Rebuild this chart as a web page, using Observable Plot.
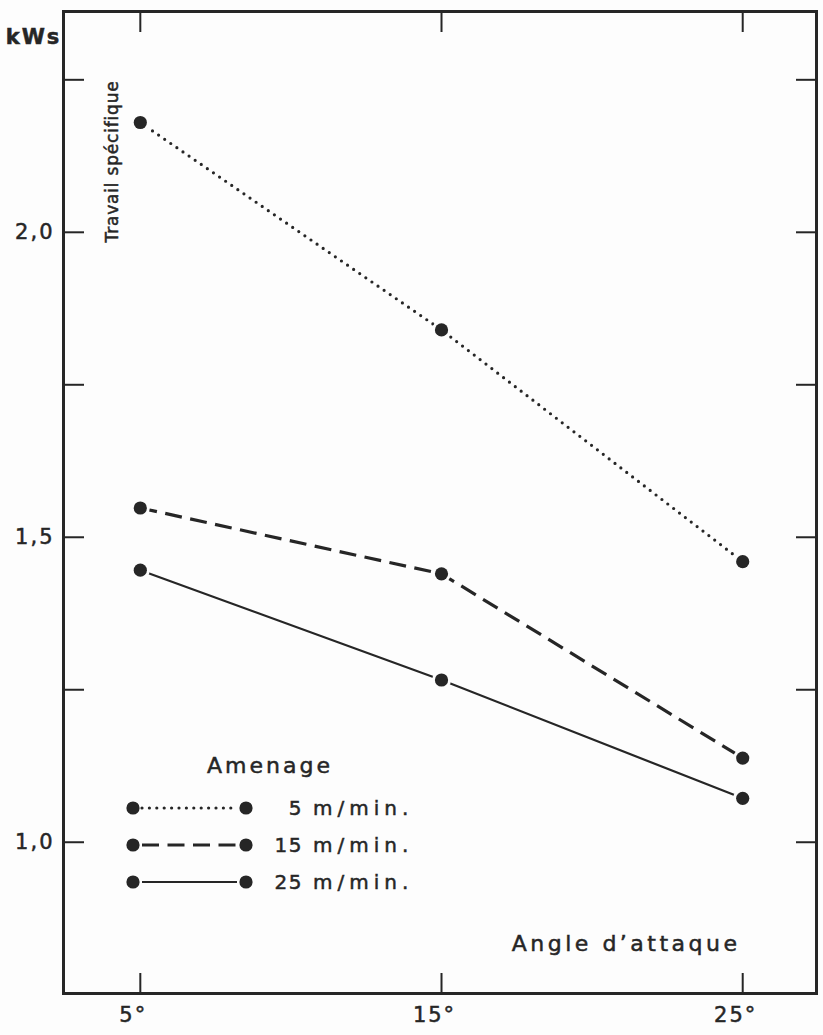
<!DOCTYPE html>
<html>
<head>
<meta charset="utf-8">
<script src="https://cdn.jsdelivr.net/npm/d3@7"></script>
<script src="https://cdn.jsdelivr.net/npm/@observablehq/plot@0.6"></script>
<style>
  html, body { margin: 0; padding: 0; background: #fdfdfd; }
  #chart { position: relative; width: 823px; height: 1035px; }
  svg { font-family: "DejaVu Sans", sans-serif; }
</style>
</head>
<body>
<div id="chart"></div>
<script>
// ---- data ----
const angles = [5, 15, 25];
const angleLabels = ["5°", "15°", "25°"];
const feeds = ["5", "15", "25"];
const feedUnit = "m/min.";
const values5 = [2.18, 1.84, 1.46];
const values15 = [1.548, 1.44, 1.138];
const values25 = [1.446, 1.266, 1.072];
const yTicks = [1.0, 1.25, 1.5, 1.75, 2.0, 2.25];
const yLabelTicks = [1.0, 1.5, 2.0];
const yLabels = ["1,0", "1,5", "2,0"];
const yUnit = "kWs";
const yTitle = "Travail spécifique";
const xTitle = "Angle d\u2019attaque";
const legendTitle = "Amenage";

const ink = "#262626";
const styles = {
  "5": {dash: "0 7.4", width: 3.2},
  "15": {dash: "17 8.5", width: 3.2},
  "25": {dash: null, width: 2.2}
};

const seriesValues = [values5, values15, values25];
const data = [];
feeds.forEach((f, i) => angles.forEach((a, j) => data.push({feed: f, angle: a, value: seriesValues[i][j]})));

const W = 823, H = 1035;
const M = {top: 11, right: 7, bottom: 42, left: 63};
const font = "DejaVu Sans, sans-serif";

const marks = [];
// ticks (inward) on all four sides
marks.push(Plot.axisY(yTicks, {anchor: "left", tickSize: -21, strokeWidth: 2, stroke: ink, label: null, text: null}));
marks.push(Plot.axisY(yTicks, {anchor: "right", tickSize: -21, strokeWidth: 2, stroke: ink, label: null, text: null}));
marks.push(Plot.axisX(angles, {anchor: "bottom", tickSize: -20, strokeWidth: 2, stroke: ink, label: null, text: null}));
marks.push(Plot.axisX(angles, {anchor: "top", tickSize: -20, strokeWidth: 2, stroke: ink, label: null, text: null}));
// tick labels
marks.push(Plot.axisY(yLabelTicks, {anchor: "left", tickSize: 0, tickPadding: 9, label: null,
  tickFormat: (d) => yLabels[yLabelTicks.indexOf(d)], fontSize: 21, fill: ink}));
marks.push(Plot.axisX(angles, {anchor: "bottom", tickSize: 0, tickPadding: 14, label: null,
  tickFormat: (d) => angleLabels[angles.indexOf(d)], fontSize: 21, fill: ink, dx: -7}));
// lines
feeds.forEach((f) => {
  marks.push(Plot.line(data.filter(d => d.feed === f), {
    x: "angle", y: "value", stroke: ink, strokeWidth: styles[f].width,
    strokeDasharray: styles[f].dash, strokeLinecap: styles[f].dash && styles[f].dash.startsWith("0") ? "round" : "butt"
  }));
});
// dots with white gap
marks.push(Plot.dot(data, {x: "angle", y: "value", r: 9.5, fill: "#fdfdfd"}));
marks.push(Plot.dot(data, {x: "angle", y: "value", r: 6.6, fill: ink}));
// frame
marks.push(Plot.frame({stroke: ink, strokeWidth: 3}));
// titles
marks.push(Plot.text([yUnit], {frameAnchor: "top-left", dx: -30, dy: 18, textAnchor: "middle", text: d => d, fontSize: 21, fontWeight: "bold", fill: ink}));
marks.push(Plot.text([yTitle], {frameAnchor: "top-left", dx: 42, dy: 150, rotate: -90, textAnchor: "middle", text: d => d, fontSize: 17, fill: ink, className: "ytitle"}));
marks.push(Plot.text([xTitle], {frameAnchor: "bottom-right", dx: -76, dy: -43, textAnchor: "end", text: d => d, fontSize: 22, fill: ink, className: "xtitle"}));

const chart = Plot.plot({
  width: W, height: H,
  marginTop: M.top, marginRight: M.right, marginBottom: M.bottom, marginLeft: M.left,
  x: {domain: [2.45, 27.45], axis: null},
  y: {domain: [0.752, 2.362], axis: null},
  style: {background: "#fdfdfd", color: ink, fontFamily: font},
  marks
});
document.getElementById("chart").appendChild(chart);

const svg = d3.select(chart);
svg.selectAll("text").style("letter-spacing", "2px").attr("stroke", ink).attr("stroke-width", 0.5);
svg.selectAll(".ytitle text").style("letter-spacing", "0.8px");
svg.selectAll(".xtitle text").style("letter-spacing", "3.5px");

// legend (built from series definitions)
const lg = svg.append("g").attr("font-family", font).attr("fill", ink)
  .attr("stroke", ink).attr("stroke-width", 0.5);
lg.append("text").attr("x", 270).attr("y", 773).attr("text-anchor", "middle")
  .attr("font-size", 22).style("letter-spacing", "3px").text(legendTitle);
feeds.forEach((f, i) => {
  const y = 808 + i * 37;
  lg.append("line").attr("x1", 142).attr("x2", 237).attr("y1", y).attr("y2", y)
    .attr("stroke", ink).attr("stroke-width", styles[f].width)
    .attr("stroke-dasharray", styles[f].dash)
    .attr("stroke-linecap", styles[f].dash && styles[f].dash.startsWith("0") ? "round" : "butt");
  [133, 246].forEach(x => {
    lg.append("circle").attr("cx", x).attr("cy", y).attr("r", 6.6).attr("fill", ink).attr("stroke", "none");
  });
  lg.append("text").attr("x", 303).attr("y", y + 7).attr("text-anchor", "end")
    .attr("font-size", 20).style("letter-spacing", "1.5px").text(f);
  lg.append("text").attr("x", 313).attr("y", y + 7).attr("text-anchor", "start")
    .attr("font-size", 20).style("letter-spacing", "5px").text(feedUnit);
});
</script>
</body>
</html>
